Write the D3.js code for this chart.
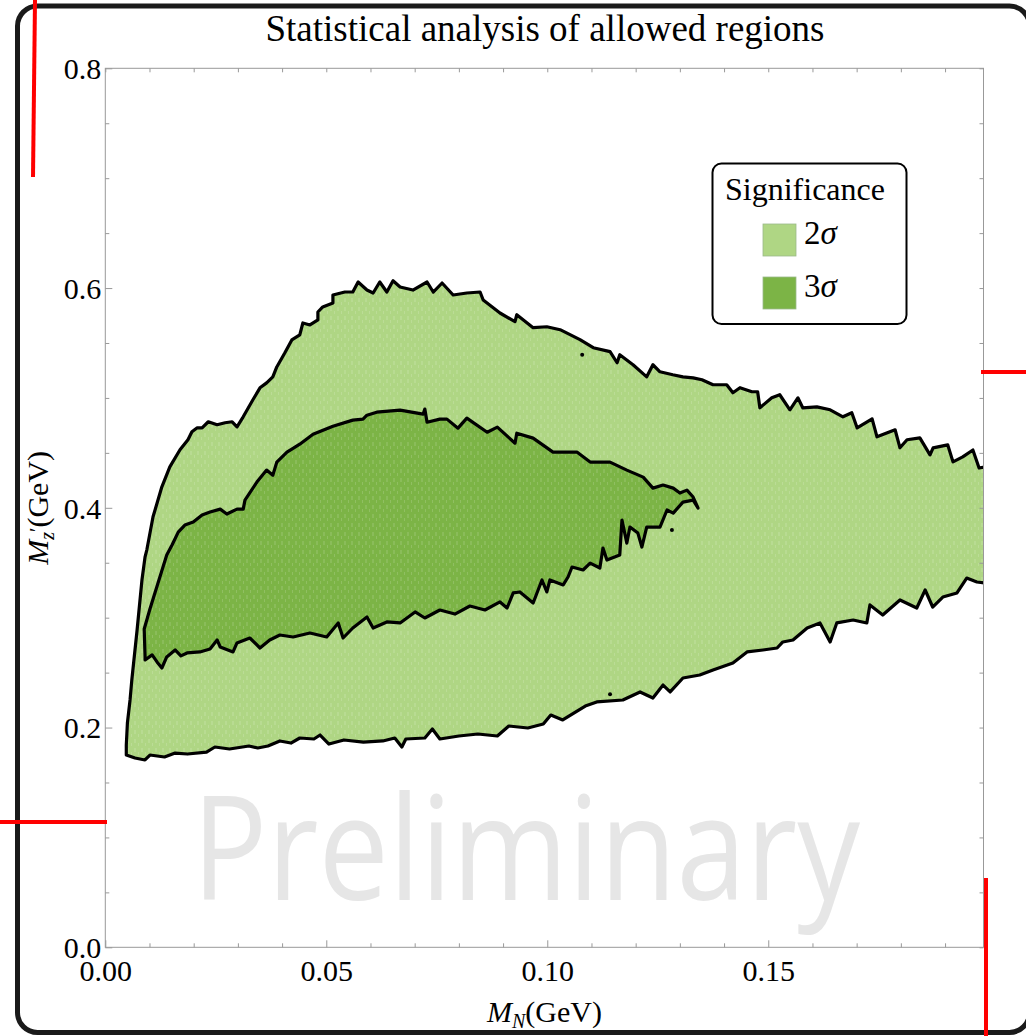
<!DOCTYPE html>
<html>
<head>
<meta charset="utf-8">
<script src="https://cdn.jsdelivr.net/npm/d3@7"></script>
<style>
body{margin:0;background:#fff;}
svg{display:block;}
text{font-family:"Liberation Serif","Times New Roman",serif;fill:#000;}
</style>
</head>
<body>
<svg></svg>
<script>
// chart values
var xMajor = [0, 0.05, 0.10, 0.15];
var xLabels = ["0.00", "0.05", "0.10", "0.15"];
var yMajor = [0, 0.2, 0.4, 0.6, 0.8];
var yLabels = ["0.0", "0.2", "0.4", "0.6", "0.8"];
var xMinor = [0.01,0.02,0.03,0.04,0.06,0.07,0.08,0.09,0.11,0.12,0.13,0.14,0.16,0.17,0.18,0.19];
var yMinor = [0.05,0.1,0.15,0.25,0.3,0.35,0.45,0.5,0.55,0.65,0.7,0.75];

var legendNames = ["2\u03c3", "3\u03c3"];
var legendColors = ["#afd684", "#7cb446"];

// 2 sigma allowed region (M_N, M_Z')
var sigma2 = [
[0.00475,0.1750],[0.00672,0.1723],[0.00898,0.1705],[0.0101,0.1750],[0.0134,0.1732],[0.0158,0.1768],
[0.0186,0.1759],[0.0229,0.1777],[0.0248,0.1823],[0.0281,0.1805],[0.0325,0.1832],[0.0345,0.1814],
[0.0368,0.1832],[0.0395,0.1878],[0.0420,0.1859],[0.0440,0.1905],[0.0472,0.1896],[0.0486,0.1932],
[0.0506,0.1850],[0.0540,0.1887],[0.0584,0.1868],[0.0628,0.1878],[0.0655,0.1905],[0.0671,0.1823],
[0.0680,0.1896],[0.0723,0.1905],[0.0740,0.1987],[0.0757,0.1896],[0.0800,0.1923],[0.0843,0.1941],
[0.0887,0.1923],[0.0913,0.2014],[0.0956,0.1996],[0.0991,0.2032],[0.1008,0.2114],[0.1035,0.2069],
[0.1060,0.2132],[0.1086,0.2196],[0.1112,0.2233],[0.1171,0.2251],[0.1210,0.2324],[0.1239,0.2269],
[0.1262,0.2387],[0.1278,0.2324],[0.1307,0.2451],[0.1345,0.2478],[0.1375,0.2524],[0.1420,0.2588],
[0.1452,0.2688],[0.1488,0.2706],[0.1520,0.2724],[0.1533,0.2779],[0.1556,0.2797],[0.1588,0.2906],
[0.1617,0.2952],[0.1640,0.2779],[0.1655,0.2952],[0.1692,0.2979],[0.1723,0.2952],[0.1730,0.3116],
[0.1759,0.3024],[0.1798,0.3161],[0.1836,0.3088],[0.1855,0.3252],[0.1872,0.3097],[0.1895,0.3188],
[0.1927,0.3225],[0.1949,0.3361],[0.1972,0.3325],[0.1990,0.3316],
[0.1990,0.4371],[0.1977,0.4362],[0.1963,0.4526],[0.1940,0.4463],[0.1918,0.4418],[0.1906,0.4573],
[0.1873,0.4546],[0.1866,0.4482],[0.1843,0.4637],[0.1814,0.4619],[0.1798,0.4546],[0.1787,0.4710],
[0.1746,0.4646],[0.1735,0.4810],[0.1701,0.4728],[0.1689,0.4865],[0.1669,0.4828],[0.1640,0.4892],
[0.1610,0.4919],[0.1578,0.4910],[0.1567,0.5001],[0.1549,0.4892],[0.1526,0.5029],[0.1508,0.5001],
[0.1481,0.4910],[0.1476,0.5056],[0.1463,0.5056],[0.1436,0.5093],[0.1420,0.5047],[0.1406,0.5120],
[0.1375,0.5120],[0.1350,0.5165],[0.1330,0.5183],[0.1307,0.5192],[0.1284,0.5211],[0.1255,0.5238],
[0.1239,0.5302],[0.1225,0.5192],[0.1194,0.5302],[0.1164,0.5393],[0.1158,0.5320],[0.1142,0.5421],
[0.1104,0.5457],[0.1074,0.5530],[0.1029,0.5621],[0.0999,0.5648],[0.0968,0.5639],[0.0931,0.5757],
[0.0927,0.5694],[0.0893,0.5773],[0.0855,0.5891],[0.0848,0.5964],[0.0818,0.5955],[0.0787,0.5937],
[0.0762,0.6046],[0.0742,0.5964],[0.0728,0.6055],[0.0696,0.5982],[0.0667,0.6010],[0.0651,0.6066],
[0.0637,0.5964],[0.0621,0.6055],[0.0606,0.5955],[0.0592,0.5982],[0.0572,0.6055],[0.0560,0.5964],
[0.0542,0.5964],[0.0515,0.5937],[0.0515,0.5864],[0.0492,0.5828],[0.0481,0.5782],[0.0481,0.5710],
[0.0463,0.5664],[0.0447,0.5682],[0.0440,0.5573],[0.0422,0.5528],[0.0406,0.5409],[0.0388,0.5282],
[0.0379,0.5191],[0.0365,0.5137],[0.0350,0.5092],[0.0334,0.4983],[0.0312,0.4828],[0.0298,0.4737],
[0.0287,0.4783],[0.0271,0.4774],[0.0253,0.4756],[0.0233,0.4783],[0.0219,0.4728],[0.0208,0.4728],
[0.0196,0.4692],[0.0187,0.4619],[0.0169,0.4528],[0.0146,0.4373],[0.0128,0.4191],[0.0108,0.3918],
[0.0094,0.3618],[0.0090,0.3554],[0.0083,0.3345],[0.0072,0.2890],[0.0060,0.2433],[0.0056,0.2251],
[0.0050,0.2041],[0.00475,0.1841]
];

// 3 sigma allowed region
var sigma3 = [
[0.0090,0.2615],[0.0106,0.2661],[0.0117,0.2597],[0.0128,0.2542],[0.0139,0.2643],[0.0158,0.2706],
[0.0171,0.2652],[0.0185,0.2679],[0.0214,0.2688],[0.0237,0.2715],[0.0253,0.2797],[0.0260,0.2733],
[0.0289,0.2688],[0.0298,0.2770],[0.0327,0.2815],[0.0350,0.2724],[0.0372,0.2797],[0.0395,0.2842],
[0.0425,0.2824],[0.0463,0.2861],[0.0501,0.2824],[0.0527,0.2952],[0.0538,0.2815],[0.0560,0.2906],
[0.0592,0.3006],[0.0606,0.2906],[0.0637,0.2961],[0.0667,0.2952],[0.0701,0.3052],[0.0723,0.2997],
[0.0757,0.3070],[0.0791,0.3033],[0.0825,0.3106],[0.0859,0.3070],[0.0893,0.3143],[0.0909,0.3088],
[0.0923,0.3225],[0.0938,0.3234],[0.0968,0.3134],[0.0988,0.3343],[0.0999,0.3234],[0.1006,0.3343],
[0.1036,0.3298],[0.1047,0.3370],[0.1056,0.3461],[0.1081,0.3434],[0.1097,0.3497],[0.1119,0.3452],
[0.1126,0.3634],[0.1135,0.3525],[0.1164,0.3570],[0.1169,0.3889],[0.1180,0.3679],[0.1187,0.3825],
[0.1205,0.3770],[0.1214,0.3643],[0.1225,0.3825],[0.1255,0.3825],[0.1271,0.3980],[0.1285,0.3952],
[0.1307,0.4052],[0.1330,0.4070],[0.1341,0.3998],
[0.1330,0.4098],[0.1316,0.4161],[0.1300,0.4134],[0.1285,0.4179],[0.1262,0.4207],[0.1239,0.4179],
[0.1217,0.4279],[0.1180,0.4343],[0.1142,0.4416],[0.1097,0.4416],[0.1067,0.4507],[0.1013,0.4507],
[0.0968,0.4634],[0.0931,0.4679],[0.0927,0.4588],[0.0887,0.4734],[0.0864,0.4688],[0.0818,0.4816],
[0.0798,0.4725],[0.0773,0.4807],[0.0757,0.4807],[0.0728,0.4779],[0.0723,0.4898],[0.0719,0.4852],
[0.0667,0.4889],[0.0614,0.4870],[0.0592,0.4843],[0.0583,0.4807],[0.0560,0.4798],[0.0515,0.4743],
[0.0470,0.4670],[0.0440,0.4579],[0.0422,0.4534],[0.0411,0.4506],[0.0388,0.4416],[0.0379,0.4297],
[0.0365,0.4343],[0.0343,0.4234],[0.0316,0.4070],[0.0312,0.3988],[0.0298,0.3988],[0.0275,0.3943],
[0.0260,0.3988],[0.0237,0.3961],[0.0219,0.3934],[0.0199,0.3870],[0.0180,0.3843],[0.0165,0.3779],
[0.0151,0.3661],[0.0139,0.3570],[0.0120,0.3325],[0.0101,0.3079],[0.0088,0.2897],[0.0090,0.2643]
];

// stray contour specks
var specks = [[0.1142,0.2304],[0.1079,0.5393],[0.1282,0.3798]];

var svgW = 1026, svgH = 1036;
var svg = d3.select("svg").attr("width", svgW).attr("height", svgH);

var mLeft = 105.3, mRight = 983.5, mTop = 68.3, mBottom = 947.3;
var x = d3.scaleLinear().domain([0, 0.1987]).range([mLeft, mRight]);
var y = d3.scaleLinear().domain([0, 0.8]).range([mBottom, mTop]);

// faint speckle texture seen on the filled regions
var defs = svg.append("defs");
var pat = defs.append("pattern").attr("id", "speckle")
	.attr("patternUnits", "userSpaceOnUse").attr("width", 7).attr("height", 9);
pat.append("line").attr("x1", 2).attr("y1", 1).attr("x2", 2).attr("y2", 5)
	.attr("stroke", "#fff").attr("stroke-opacity", 0.22).attr("stroke-width", 1);
pat.append("line").attr("x1", 5.5).attr("y1", 5).attr("x2", 5.5).attr("y2", 8)
	.attr("stroke", "#fff").attr("stroke-opacity", 0.15).attr("stroke-width", 1);

// outer rounded frame
svg.append("rect")
	.attr("x", 17.5).attr("y", 6)
	.attr("width", 1012).attr("height", 1026.5)
	.attr("rx", 20)
	.attr("fill", "none").attr("stroke", "#1a1a1a").attr("stroke-width", 5);

// title
svg.append("text")
	.attr("x", 545).attr("y", 41)
	.attr("text-anchor", "middle")
	.attr("font-size", 37)
	.text("Statistical analysis of allowed regions");

// watermark
svg.append("text")
	.attr("x", 192).attr("y", 900)
	.attr("font-size", 144)
	.attr("textLength", 668).attr("lengthAdjust", "spacingAndGlyphs")
	.style("font-family", "'Open Sans', Lato, sans-serif")
	.style("fill", "#e6e6e6")
	.text("Preliminary");

// clip for regions
defs.append("clipPath").attr("id", "plotclip")
	.append("rect").attr("x", mLeft).attr("y", mTop)
	.attr("width", mRight - mLeft).attr("height", mBottom - mTop);

var plot = svg.append("g").attr("clip-path", "url(#plotclip)");

var line = d3.line()
	.x(function(d){ return x(d[0]); })
	.y(function(d){ return y(d[1]); })
	.curve(d3.curveLinearClosed);

[sigma2, sigma3].forEach(function(region, i){
	plot.append("path").datum(region)
		.attr("d", line)
		.attr("fill", legendColors[i]);
	plot.append("path").datum(region)
		.attr("d", line)
		.attr("fill", "url(#speckle)")
		.attr("stroke", "#000").attr("stroke-width", 3.2)
		.attr("stroke-linejoin", "round");
});

plot.selectAll(".speck").data(specks).enter().append("circle")
	.attr("cx", function(d){ return x(d[0]); })
	.attr("cy", function(d){ return y(d[1]); })
	.attr("r", 2).attr("fill", "#000");

// frame of the plot
svg.append("rect")
	.attr("x", mLeft).attr("y", mTop)
	.attr("width", mRight - mLeft).attr("height", mBottom - mTop)
	.attr("fill", "none").attr("stroke", "#999").attr("stroke-width", 1);

// axes
function styleAxis(g){
	g.select(".domain").remove();
	g.selectAll(".tick line").attr("stroke", "#999");
	g.selectAll(".tick text").attr("font-size", 30).attr("fill", "#000")
		.style("font-family", "'Liberation Serif', serif");
}

svg.append("g").attr("transform", "translate(0," + mBottom + ")")
	.call(d3.axisBottom(x).tickValues(xMajor).tickSize(-7).tickPadding(12)
		.tickFormat(function(d, i){ return xLabels[i]; }))
	.call(styleAxis);
svg.append("g").attr("transform", "translate(0," + mBottom + ")")
	.call(d3.axisBottom(x).tickValues(xMinor).tickSize(-4).tickFormat(""))
	.call(styleAxis);

svg.append("g").attr("transform", "translate(" + mLeft + ",0)")
	.call(d3.axisLeft(y).tickValues(yMajor).tickSize(-7).tickPadding(4)
		.tickFormat(function(d, i){ return yLabels[i]; }))
	.call(styleAxis)
	.selectAll(".tick text").attr("dy", "0.34em");
svg.append("g").attr("transform", "translate(" + mLeft + ",0)")
	.call(d3.axisLeft(y).tickValues(yMinor).tickSize(-4).tickFormat(""))
	.call(styleAxis);

svg.append("g").attr("transform", "translate(0," + mTop + ")")
	.call(d3.axisTop(x).tickValues(xMajor.concat(xMinor)).tickSize(-4).tickFormat(""))
	.call(styleAxis);
svg.append("g").attr("transform", "translate(" + mRight + ",0)")
	.call(d3.axisRight(y).tickValues(yMajor.concat(yMinor)).tickSize(-4).tickFormat(""))
	.call(styleAxis);

// axis titles
var xt = svg.append("text")
	.attr("x", (mLeft + mRight) / 2).attr("y", 1022)
	.attr("text-anchor", "middle").attr("font-size", 30);
xt.append("tspan").attr("font-style", "italic").text("M");
xt.append("tspan").attr("font-style", "italic").attr("font-size", 20).attr("dy", 6).text("N");
xt.append("tspan").attr("dy", -6).text("(GeV)");

var yt = svg.append("text")
	.attr("transform", "translate(48," + ((mTop + mBottom) / 2) + ") rotate(-90)")
	.attr("text-anchor", "middle").attr("font-size", 30);
yt.append("tspan").attr("font-style", "italic").text("M");
yt.append("tspan").attr("font-style", "italic").attr("font-size", 20).attr("dy", 6).text("z");
yt.append("tspan").attr("font-size", 20).attr("dy", -10).text("\u2032");
yt.append("tspan").attr("dy", 4).text("(GeV)");

// legend
var legend = svg.append("g");
legend.append("rect")
	.attr("x", 712.5).attr("y", 163.5)
	.attr("width", 194).attr("height", 160.5)
	.attr("rx", 9)
	.attr("fill", "#fff").attr("stroke", "#000").attr("stroke-width", 2);
legend.append("text")
	.attr("x", 805).attr("y", 200)
	.attr("text-anchor", "middle").attr("font-size", 32)
	.text("Significance");

var items = legend.selectAll(".item").data(legendNames).enter().append("g")
	.attr("transform", function(d, i){ return "translate(763," + (224 + i * 53) + ")"; });
items.append("rect")
	.attr("width", 33).attr("height", 32)
	.attr("fill", function(d, i){ return legendColors[i]; })
	.attr("stroke", "#9bb98a").attr("stroke-width", 0.8);
items.each(function(d){
	var t = d3.select(this).append("text")
		.attr("x", 41).attr("y", 20)
		.attr("font-size", 33);
	t.append("tspan").text(d.charAt(0));
	t.append("tspan").attr("font-style", "italic").text(d.charAt(1));
});

// red marks on the picture
var redMarks = [[35, 0, 33, 177], [981, 372, 1026, 372], [0, 822, 107, 822], [986, 878, 986, 1036]];
svg.selectAll(".redmark").data(redMarks).enter().append("line")
	.attr("x1", function(d){ return d[0]; }).attr("y1", function(d){ return d[1]; })
	.attr("x2", function(d){ return d[2]; }).attr("y2", function(d){ return d[3]; })
	.attr("stroke", "#ff0000").attr("stroke-width", 4);
</script>
</body>
</html>
